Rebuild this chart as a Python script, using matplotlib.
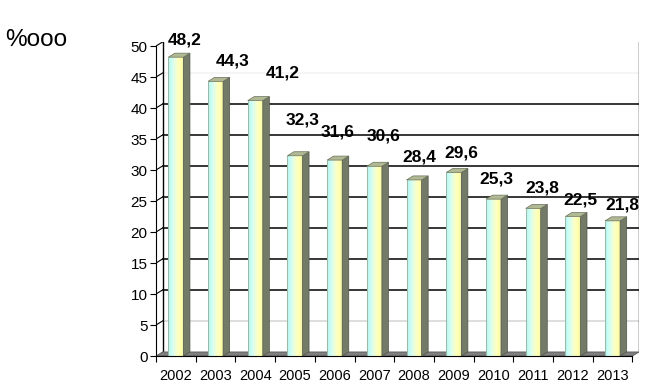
import numpy as np
import matplotlib
matplotlib.use("Agg")
import matplotlib.pyplot as plt
from matplotlib.patches import Polygon
from matplotlib.colors import LinearSegmentedColormap

years = ["2002", "2003", "2004", "2005", "2006", "2007",
         "2008", "2009", "2010", "2011", "2012", "2013"]
rates = [48.2, 44.3, 41.2, 32.3, 31.6, 30.6, 28.4, 29.6, 25.3, 23.8, 22.5, 21.8]

# value labels were placed by hand in the original, so read their spots off the picture
label_dx = [0.23, 0.43, 0.68, 0.20, 0.08, 0.23, 0.13, 0.20, 0.08, 0.23, 0.18, 0.25]
label_y = [51.0, 47.6, 45.6, 38.1, 36.1, 35.5, 32.1, 32.7, 28.5, 27.1, 25.2, 24.4]

yticks = [0, 5, 10, 15, 20, 25, 30, 35, 40, 45, 50]

plt.rcParams['font.family'] = ['Liberation Sans', 'DejaVu Sans']

# 3d look: depth of walls and bars in data units
dx, dy = 0.165, 0.65
bw = 0.38

fig = plt.figure(figsize=(6.66, 3.86), dpi=100)
ax = fig.add_axes([156 / 666, 30 / 386, 483 / 666, 314 / 386])
x = np.arange(len(years))

# back wall grid lines
grid_cols = {5: "#d4d4d4", 45: "#f2f2f2", 50: "none"}
for v in yticks[1:]:
    c = grid_cols.get(v, "black")
    ax.plot([-0.5 + dx, 11.5 + dx], [v + dy, v + dy], color=c, lw=1.1, zorder=1)
    # little slant from the front axis to the wall
    ax.plot([-0.5, -0.5 + dx], [v, v + dy], color="black", lw=0.8, zorder=1)

# walls
ax.plot([-0.5 + dx, -0.5 + dx], [dy, 50 + dy], color="black", lw=1, zorder=1)
ax.plot([11.5 + dx, 11.5 + dx], [dy, 50 + dy], color="black", lw=1, zorder=1)

# floor
ax.add_patch(Polygon([(-0.5, 0), (11.5, 0), (11.5 + dx, dy), (-0.5 + dx, dy)],
                     closed=True, facecolor="#7f7f7f", edgecolor="#5a5a5a",
                     lw=0.6, zorder=2))

# bars: front face with a cyan-to-yellow gradient
cmap = LinearSegmentedColormap.from_list(
    "bar", ["#b4f2ea", "#c8fdf6", "#e4ffe6", "#fbffc4", "#ffffb0", "#eeeea0"])
grad = np.linspace(0, 1, 256).reshape(1, -1)
bars = ax.bar(x, rates, width=bw, facecolor="none", edgecolor="none", zorder=4)
for b, v in zip(bars, rates):
    x0 = b.get_x()
    x1 = x0 + b.get_width()
    im = ax.imshow(grad, cmap=cmap, extent=[x0, x1, 0, v], aspect="auto",
                   zorder=3, interpolation="bilinear")
    im.set_clip_path(b)
    # side face
    ax.add_patch(Polygon([(x1, 0), (x1 + dx, dy), (x1 + dx, v + dy), (x1, v)],
                         closed=True, facecolor="#737a68", edgecolor="#4f5545",
                         lw=0.5, zorder=3))
    # top face
    ax.add_patch(Polygon([(x0, v), (x1, v), (x1 + dx, v + dy), (x0 + dx, v + dy)],
                         closed=True, facecolor="#b0b894", edgecolor="#6a705a",
                         lw=0.5, zorder=3))
    ax.plot([x0, x0], [0, v], color="#8fa088", lw=0.5, zorder=4)

for i, t in enumerate(rates):
    ax.text(x[i] + label_dx[i], label_y[i], f"{t:.1f}".replace(".", ","),
            ha="center", va="center", fontsize=12.5, fontweight="bold", zorder=6)

ax.set_xlim(-0.5, 11.5 + dx)
ax.set_ylim(0, 50 + dy)

for s in ["top", "right"]:
    ax.spines[s].set_visible(False)
ax.spines["left"].set_bounds(0, 50)
ax.spines["bottom"].set_bounds(-0.5, 11.5)
ax.spines["left"].set_zorder(5)
ax.spines["bottom"].set_zorder(5)

ax.set_yticks(yticks)
ax.set_yticklabels([str(v) for v in yticks], fontsize=11)
ax.tick_params(axis="y", length=4, width=0.8, pad=2)

ax.set_xticks(x)
ax.set_xticklabels(years, fontsize=10.5)
ax.set_xticks(np.arange(-0.5, 11.6, 1.0), minor=True)
ax.tick_params(axis="x", which="major", length=0, pad=9)
ax.tick_params(axis="x", which="minor", length=4, width=0.8)

fig.text(5 / 666, 1 - 40 / 386, "%ooo", fontsize=17.5, ha="left", va="center")

fig.savefig("out.png", dpi=100)
